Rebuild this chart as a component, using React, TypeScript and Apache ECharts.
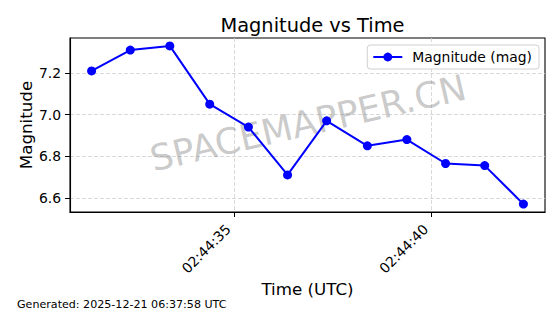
import React, { useEffect, useRef } from "react";
import * as echarts from "echarts";

const timeLabels = [
  "02:44:31.40", "02:44:32.38", "02:44:33.38", "02:44:34.39",
  "02:44:35.37", "02:44:36.36", "02:44:37.35", "02:44:38.38",
  "02:44:39.38", "02:44:40.36", "02:44:41.35", "02:44:42.33",
];
const magnitudes = [7.21, 7.31, 7.33, 7.05, 6.94, 6.71, 6.97, 6.85, 6.88, 6.765, 6.755, 6.57];
const xTickLabels = ["02:44:35", "02:44:40"];
const yTickValues = [6.6, 6.8, 7.0, 7.2];
const seriesName = "Magnitude (mag)";
const titleText = "Magnitude vs Time";
const xName = "Time (UTC)";
const yName = "Magnitude";
const footerText = "Generated: 2025-12-21 06:37:58 UTC";
const watermark = "SPACEMAPPER.CN";

const FONT = "DejaVu Sans";

function toSec(s: string): number {
  const [h, m, sec] = s.split(":");
  return Number(h) * 3600 + Number(m) * 60 + Number(sec);
}
function fmtTime(v: number): string {
  const t = Math.round(v);
  const h = Math.floor(t / 3600);
  const m = Math.floor((t % 3600) / 60);
  const s = t % 60;
  const p = (n: number) => String(n).padStart(2, "0");
  return `${p(h)}:${p(m)}:${p(s)}`;
}

export default function App() {
  const ref = useRef<HTMLDivElement>(null);
  useEffect(() => {
    if (!ref.current) return;
    const chart = echarts.init(ref.current, null, { renderer: "svg" });
    const xs = timeLabels.map(toSec);
    const data = xs.map((x, i) => [x, magnitudes[i]]);
    const xMinD = Math.min(...xs), xMaxD = Math.max(...xs);
    const yMinD = Math.min(...magnitudes), yMaxD = Math.max(...magnitudes);
    const xPad = (xMaxD - xMinD) * 0.05;
    const yPad = (yMaxD - yMinD) * 0.05;
    const xTicks = xTickLabels.map(toSec);
    const gridLine = { show: true, lineStyle: { color: "#cfcfcf", type: [4, 2], width: 0.8 } };
    chart.setOption({
      animation: false,
      backgroundColor: "#fff",
      textStyle: { fontFamily: FONT },
      title: {
        text: titleText,
        left: 307.5,
        textAlign: "center",
        top: 11,
        textStyle: { fontFamily: FONT, fontSize: 19.4, fontWeight: "normal", color: "#000" },
      },
      legend: {
        right: 21,
        top: 45,
        orient: "vertical",
        backgroundColor: "#fff",
        borderColor: "#d0d0d0",
        borderWidth: 1,
        borderRadius: 3,
        padding: [5, 7, 5, 5],
        itemWidth: 29,
        itemHeight: 11,
        textStyle: { fontFamily: FONT, fontSize: 13.9, color: "#000", padding: [0, 0, 0, 5] },
        data: [seriesName],
      },
      grid: {
        left: 70, right: 15, top: 38, bottom: 102,
        show: true, borderColor: "#000", borderWidth: 1.1,
      },
      xAxis: {
        type: "value",
        min: xMinD - xPad,
        max: xMaxD + xPad,
        name: xName,
        nameLocation: "middle",
        nameGap: 68,
        nameMoveOverlap: false,
        nameTextStyle: { fontFamily: FONT, fontSize: 16.7, color: "#000" },
        axisLine: { show: true, lineStyle: { color: "#000", width: 1.1 } },
        axisTick: { show: true, length: 5, lineStyle: { color: "#000" }, customValues: xTicks },
        axisLabel: {
          customValues: xTicks,
          rotate: 45,
          margin: 9,
          padding: [0, 8, 0, 0],
          fontFamily: FONT,
          fontSize: 13.9,
          color: "#000",
          formatter: (v: number) => fmtTime(v),
        },
        splitLine: gridLine,
      },
      yAxis: {
        type: "value",
        min: yMinD - yPad,
        max: yMaxD + yPad,
        name: yName,
        nameLocation: "middle",
        nameGap: 36,
        nameMoveOverlap: false,
        nameTextStyle: { fontFamily: FONT, fontSize: 16.7, color: "#000" },
        axisLine: { show: true, lineStyle: { color: "#000", width: 1.1 } },
        axisTick: { show: true, length: 5, lineStyle: { color: "#000" }, customValues: yTickValues },
        axisLabel: {
          customValues: yTickValues,
          margin: 9,
          fontFamily: FONT,
          fontSize: 13.9,
          color: "#000",
          formatter: (v: number) => v.toFixed(1),
        },
        splitLine: gridLine,
      },
      graphic: [
        {
          type: "text",
          x: 308,
          y: 123,
          rotation: (13 * Math.PI) / 180,
          z: 1,
          style: {
            text: watermark,
            fontFamily: FONT,
            fontSize: 36,
            fill: "rgba(128,128,128,0.42)",
            align: "center",
            verticalAlign: "middle",
          },
        },
        {
          type: "text",
          left: 17,
          top: 299,
          style: { text: footerText, fontFamily: FONT, fontSize: 11.1, fill: "#000" },
        },
      ],
      series: [
        {
          name: seriesName,
          type: "line",
          data,
          symbol: "circle",
          symbolSize: 9,
          lineStyle: { color: "#0000ff", width: 2 },
          itemStyle: { color: "#0000ff" },
          z: 5,
        },
      ],
    });
    return () => chart.dispose();
  }, []);
  return (
    <div
      ref={ref}
      style={{ position: "fixed", left: 0, top: 0, width: 560, height: 314, background: "#fff" }}
    />
  );
}
